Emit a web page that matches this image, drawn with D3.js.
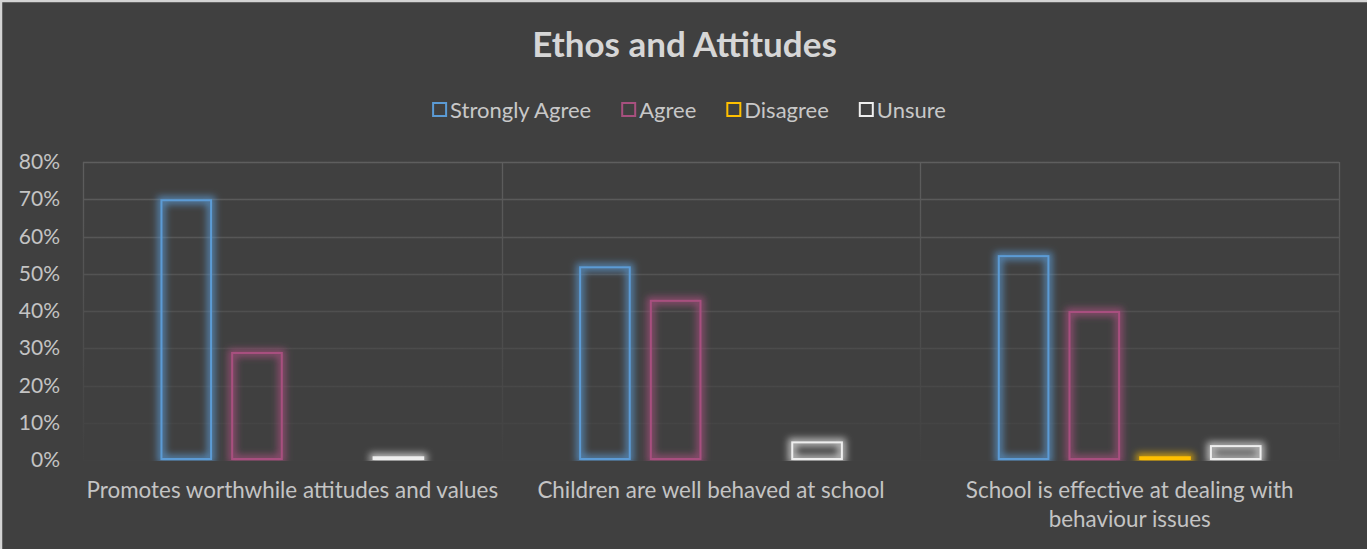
<!DOCTYPE html>
<html lang="en">

<head>
    <meta charset="UTF-8">
    <title>Ethos and Attitudes</title>
    <script src="https://cdnjs.cloudflare.com/ajax/libs/d3/7.8.5/d3.min.js"></script>
    <style>
        body {
            margin: 0;
            background: #404040;
            overflow: hidden;
        }

        text {
            font-family: Lato, "Open Sans", sans-serif;
        }
    </style>
</head>

<body>
<script>
    // data
    var categories = [
        "Promotes worthwhile attitudes and values",
        "Children are well behaved at school",
        "School is effective at dealing with behaviour issues"
    ];
    var seriesNames = ["Strongly Agree", "Agree", "Disagree", "Unsure"];
    var stronglyAgree = [0.70, 0.52, 0.55];
    var agree = [0.29, 0.43, 0.40];
    var disagree = [0.00, 0.00, 0.01];
    var unsure = [0.01, 0.05, 0.04];
    var yTicks = [0, 0.1, 0.2, 0.3, 0.4, 0.5, 0.6, 0.7, 0.8];

    var seriesValues = [stronglyAgree, agree, disagree, unsure];
    var colors = ["#5b9bd5", "#a8507f", "#ffc000", "#eeeeee"];

    var W = 1367,
        H = 549;
    var plot = { left: 83, right: 1339, top: 162, bottom: 460 };

    var svg = d3.select("body").append("svg")
        .attr("width", W)
        .attr("height", H);

    var defs = svg.append("defs");

    // gridlines fade towards the bottom
    var grad = defs.append("linearGradient")
        .attr("id", "gridFade")
        .attr("gradientUnits", "userSpaceOnUse")
        .attr("x1", 0).attr("x2", 0)
        .attr("y1", plot.top).attr("y2", plot.bottom);
    grad.append("stop").attr("offset", "0%").attr("stop-color", "#5e5e5e");
    grad.append("stop").attr("offset", "100%").attr("stop-color", "#414141");

    // glow around the bar outlines
    var glow = defs.append("filter")
        .attr("id", "glow")
        .attr("filterUnits", "userSpaceOnUse")
        .attr("x", 0).attr("y", 0)
        .attr("width", W).attr("height", H);
    glow.append("feMorphology")
        .attr("in", "SourceGraphic")
        .attr("operator", "dilate")
        .attr("radius", 3)
        .attr("result", "thick");
    glow.append("feGaussianBlur")
        .attr("in", "thick")
        .attr("stdDeviation", 3.5)
        .attr("result", "blur");
    glow.append("feComponentTransfer")
        .attr("in", "blur")
        .attr("result", "soft")
        .append("feFuncA")
        .attr("type", "linear")
        .attr("slope", 0.7);
    var merge = glow.append("feMerge");
    merge.append("feMergeNode").attr("in", "soft");
    merge.append("feMergeNode").attr("in", "SourceGraphic");

    defs.append("clipPath")
        .attr("id", "plotClip")
        .append("rect")
        .attr("x", plot.left - 10)
        .attr("y", plot.top - 20)
        .attr("width", plot.right - plot.left + 20)
        .attr("height", plot.bottom - plot.top + 21);

    // background + border
    svg.append("rect")
        .attr("x", 1).attr("y", 1)
        .attr("width", W + 10).attr("height", H + 10)
        .attr("fill", "#404040")
        .attr("stroke", "#d4d4d4")
        .attr("stroke-width", 2.5);

    var x0 = d3.scaleBand()
        .domain(categories)
        .range([plot.left, plot.right])
        .padding(0);

    var bw = x0.bandwidth();
    var x1 = d3.scaleBand()
        .domain(seriesNames)
        .range([bw * 0.185, bw * 0.815])
        .paddingInner(0.27)
        .paddingOuter(0);

    var y = d3.scaleLinear()
        .domain([0, 0.8])
        .range([plot.bottom, plot.top]);

    // horizontal gridlines
    svg.append("g")
        .selectAll("line")
        .data(yTicks)
        .enter().append("line")
        .attr("x1", plot.left)
        .attr("x2", plot.right)
        .attr("y1", function(d) { return Math.round(y(d)) + 0.5; })
        .attr("y2", function(d) { return Math.round(y(d)) + 0.5; })
        .attr("stroke", "url(#gridFade)")
        .attr("stroke-width", 1.3);

    // vertical category separators
    var seps = [plot.left].concat(categories.map(function(c) { return x0(c) + bw; }));
    svg.append("g")
        .selectAll("line")
        .data(seps)
        .enter().append("line")
        .attr("x1", function(d) { return Math.round(d) + 0.5; })
        .attr("x2", function(d) { return Math.round(d) + 0.5; })
        .attr("y1", plot.top)
        .attr("y2", plot.bottom)
        .attr("stroke", "url(#gridFade)")
        .attr("stroke-width", 1.3);

    // y axis labels
    var yAxis = d3.axisLeft(y)
        .tickValues(yTicks)
        .tickFormat(d3.format(".0%"))
        .tickSize(0)
        .tickPadding(23);
    var yg = svg.append("g")
        .attr("transform", "translate(" + plot.left + ",0)")
        .call(yAxis);
    yg.select(".domain").remove();
    yg.selectAll("text")
        .attr("fill", "#c4c4c4")
        .style("font-size", "21px")
        .style("font-family", "Lato, sans-serif");

    // bars
    var barData = [];
    categories.forEach(function(c, ci) {
        seriesNames.forEach(function(s, si) {
            barData.push({ cat: c, series: s, value: seriesValues[si][ci], color: colors[si] });
        });
    });

    svg.append("g")
        .attr("clip-path", "url(#plotClip)")
        .selectAll("rect")
        .data(barData.filter(function(d) { return d.value > 0; }))
        .enter().append("rect")
        .attr("x", function(d) { return x0(d.cat) + x1(d.series) + 1; })
        .attr("width", x1.bandwidth() - 2)
        .attr("y", function(d) { return y(d.value) + 1; })
        .attr("height", function(d) { return Math.max(1, y(0) - y(d.value) - 2); })
        .attr("fill", "none")
        .attr("stroke", function(d) { return d.color; })
        .attr("stroke-width", 2)
        .attr("filter", "url(#glow)");

    // x labels, wrapped to the band width
    var xl = svg.append("g")
        .selectAll("text")
        .data(categories)
        .enter().append("text")
        .attr("x", function(d) { return x0(d) + bw / 2; })
        .attr("y", 498)
        .attr("text-anchor", "middle")
        .attr("fill", "#c4c4c4")
        .style("font-size", "22.4px");

    xl.each(function(d) {
        var t = d3.select(this),
            words = d.split(" "),
            line = [],
            lines = [];
        var probe = t.append("tspan");
        words.forEach(function(w) {
            line.push(w);
            probe.text(line.join(" "));
            if (probe.node().getComputedTextLength() > bw - 3 && line.length > 1) {
                line.pop();
                lines.push(line.join(" "));
                line = [w];
            }
        });
        lines.push(line.join(" "));
        probe.remove();
        lines.forEach(function(l, i) {
            t.append("tspan")
                .attr("x", x0(d) + bw / 2)
                .attr("dy", i === 0 ? 0 : 28.5)
                .text(l);
        });
    });

    // title
    svg.append("text")
        .attr("x", 684.5)
        .attr("y", 57)
        .attr("text-anchor", "middle")
        .attr("fill", "#d6d6d6")
        .style("font-size", "35px")
        .style("font-weight", "bold")
        .text("Ethos and Attitudes");

    // legend
    var legend = svg.append("g");
    var lx = 0;
    var gap = 30;
    seriesNames.forEach(function(s, i) {
        var item = legend.append("g").attr("transform", "translate(" + lx + ",0)");
        item.append("rect")
            .attr("x", 1).attr("y", -7)
            .attr("width", 13).attr("height", 13)
            .attr("fill", "none")
            .attr("stroke", colors[i])
            .attr("stroke-width", 2);
        var tx = item.append("text")
            .attr("x", 18)
            .attr("y", 7.5)
            .attr("fill", "#c8c8c8")
            .style("font-size", "22px")
            .text(s);
        lx += 18 + tx.node().getComputedTextLength() + gap;
    });
    var lw = lx - gap;
    legend.attr("transform", "translate(" + (689 - lw / 2) + ",110)");
</script>
</body>

</html>
